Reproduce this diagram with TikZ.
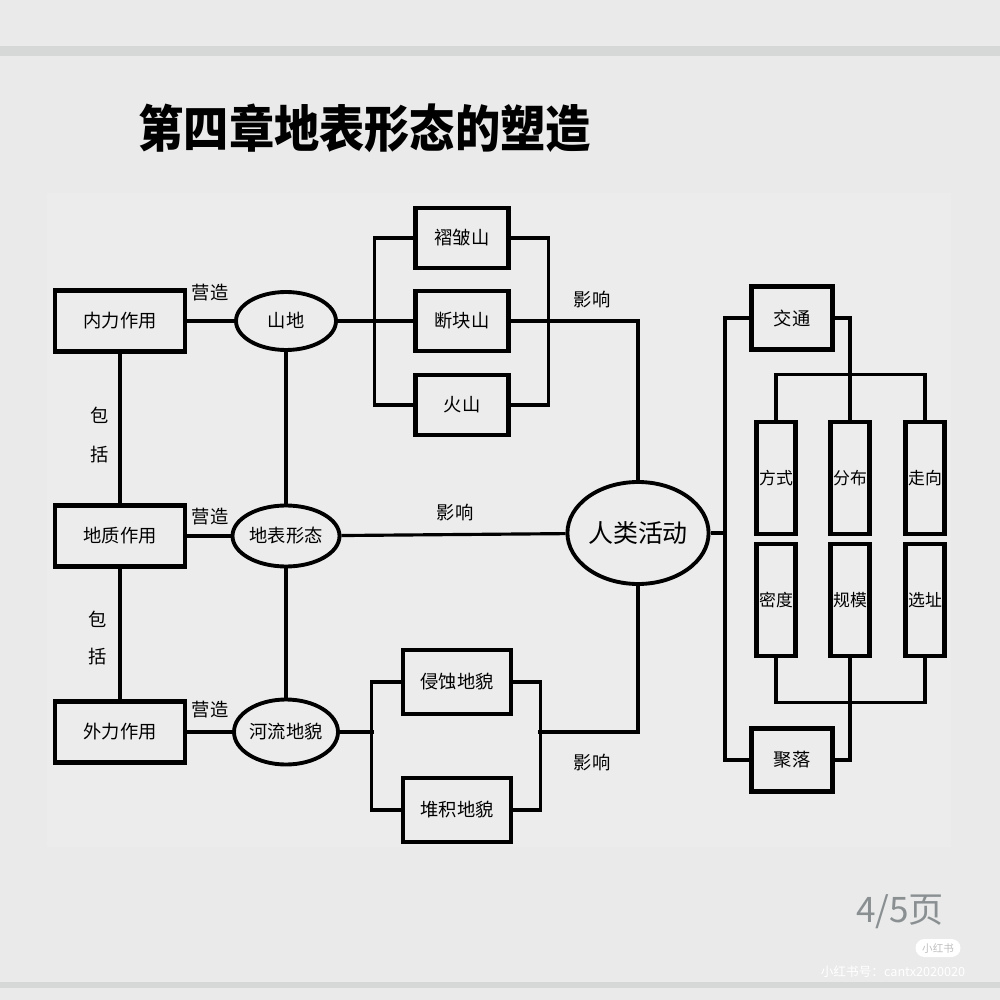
\documentclass[tikz,border=0pt]{standalone}
\usepackage{fontspec}
\setmainfont{Noto Sans CJK SC}
\usetikzlibrary{shapes}
\definecolor{pagegray}{HTML}{EAEAEA}
\definecolor{bandgray}{HTML}{D6D8D8}
\definecolor{panelgray}{HTML}{ECECEC}
\definecolor{markgray}{HTML}{8A9092}
\newcommand{\hlink}[3]
{
	\draw (#2) -- +(#1,0) |- (#3)
}
\newcommand{\vlink}[3]
{
	\draw (#2) -- +(0,#1) -| (#3)
}

\begin{document}
\begin{tikzpicture}[line width=0.9pt, every node/.append style={align=center, inner sep=0pt, font=\fontsize{5.2}{6}\selectfont},
	box/.style={draw, rectangle, line width=1.2pt},
	oval/.style={draw, ellipse, line width=1.1pt},
	tall/.style={box, minimum width=0.39cm, minimum height=1.12cm, font=\fontsize{4.8}{6}\selectfont}]
	\useasboundingbox (0,0) rectangle (10,-10);
	\fill[pagegray] (0,0) rectangle (10,-10);
	\fill[bandgray] (0,-0.46) rectangle (10,-0.56);
	\fill[bandgray] (0,-9.82) rectangle (10,-9.88);
	\fill[panelgray] (0.47,-1.93) rectangle (9.51,-8.47);
	\node[anchor=west, font=\fontsize{14.3}{16}\selectfont\bfseries] (title) at (1.37,-1.28) {\scalebox{0.9}[1]{第四章地表形态的塑造}};
		\foreach \y/\n/\t in {3.21/neili/内力作用, 5.36/dizhi/地质作用, 7.32/waili/外力作用}
			\node[box, minimum width=1.30cm, minimum height=0.61cm] (\n) at (1.20,-\y) {\t};
		\foreach \y/\n in {2.93/ying1, 5.17/ying2, 7.10/ying3}
			\node (\n) at (2.10,-\y) {营造};
		\node[font=\fontsize{5.2}{11.3}\selectfont] (bao1) at (1.00,-4.35) {包\\括};
		\node[font=\fontsize{5.2}{10.5}\selectfont] (bao2) at (0.98,-6.38) {包\\括};
		\node[oval, minimum width=1.00cm, minimum height=0.58cm] (shandi) at (2.86,-3.21) {山地};
		\node[oval, minimum width=1.07cm, minimum height=0.61cm] (dibiao) at (2.86,-5.36) {地表形态};
		\node[oval, minimum width=1.04cm, minimum height=0.65cm] (heliu) at (2.86,-7.32) {河流地貌};
		\node[oval, minimum width=1.35cm, minimum height=1.02cm, font=\fontsize{7.1}{8}\selectfont] (renlei) at (6.38,-5.33) {人类活动};
		\foreach \y/\n/\t in {2.38/zhezhou/褶皱山, 3.21/duankuai/断块山, 4.05/huoshan/火山}
			\node[box, minimum width=0.93cm, minimum height=0.60cm] (\n) at (4.62,-\y) {\t};
		\node[box, minimum width=1.08cm, minimum height=0.64cm] (qinshi) at (4.57,-6.82) {侵蚀地貌};
		\node[box, minimum width=1.08cm, minimum height=0.64cm] (duiji) at (4.57,-8.10) {堆积地貌};
		\node[box, minimum width=0.81cm, minimum height=0.63cm] (jiaotong) at (7.92,-3.18) {交通};
		\node[box, minimum width=0.81cm, minimum height=0.63cm] (juluo) at (7.92,-7.60) {聚落};
		\foreach \x/\m/\n/\s/\t in {7.76/fangshi/midu/方式/密度, 8.50/fenbu/guimo/分布/规模, 9.25/zouxiang/xuanzhi/走向/选址} {
			\node[tall] (\m) at (\x,-4.78) {\s};
			\node[tall] (\n) at (\x,-6.00) {\t};
		};
		\node (yx1) at (5.92,-3.00) {影响};
		\node (yx2) at (4.55,-5.13) {影响};
		\node (yx3) at (5.92,-7.63) {影响};
		\coordinate (bl) at (3.74,-7.32);
		\coordinate (br) at (5.38,-7.32);
		\coordinate (rv) at (7.25,-5.33);
		\draw (neili) -- (dizhi) -- (waili);
		\draw (shandi) -- (dibiao) -- (heliu);
		\draw (neili) -- (shandi);
		\draw (dizhi) -- (dibiao);
		\draw (waili) -- (heliu);
		\draw (shandi) -- (duankuai);
		\hlink{-0.39}{zhezhou.west}{huoshan.west};
		\hlink{0.38}{zhezhou.east}{huoshan.east};
		\draw (duankuai) -| (renlei);
		\draw (dibiao) -- (renlei);
		\draw (heliu) -- (bl);
		\hlink{-0.29}{qinshi.west}{duiji.west};
		\hlink{0.27}{qinshi.east}{duiji.east};
		\draw (br) -| (renlei);
		\draw (renlei) -- (rv);
		\draw (jiaotong) -| (rv);
		\draw (juluo) -| (rv);
		\draw (jiaotong) -| (fenbu);
		\draw (juluo) -| (guimo);
		\vlink{0.45}{fangshi.north}{zouxiang.north};
		\vlink{-0.44}{midu.south}{xuanzhi.south};
	\node[font=\fontsize{10}{12}\selectfont, text=markgray] (page) at (9.00,-9.12) {4/5页};
	\node[fill=white, rounded corners=0.09cm, minimum width=0.45cm, minimum height=0.18cm, font=\fontsize{3}{3.5}\selectfont, text=lightgray] (badge) at (9.38,-9.48) {小红书};
	\node[font=\fontsize{3.6}{4}\selectfont, text=white] (mark) at (8.93,-9.72) {小红书号：cantx2020020};
\end{tikzpicture}
\end{document}
